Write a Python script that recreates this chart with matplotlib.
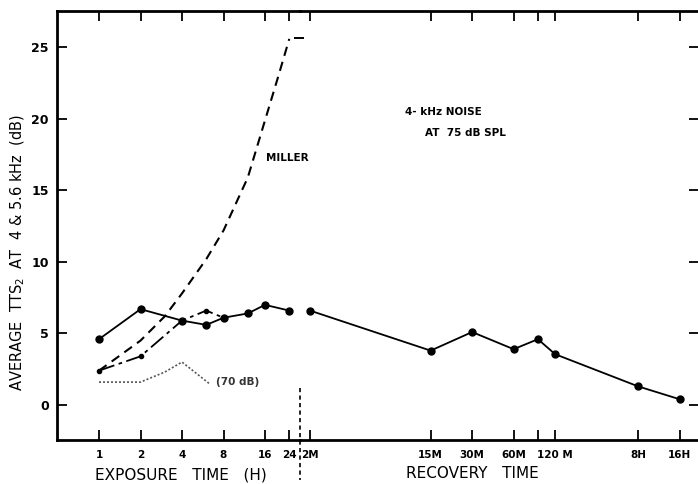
import numpy as np
import matplotlib
matplotlib.use("Agg")
import matplotlib.pyplot as plt
from matplotlib.transforms import blended_transform_factory, ScaledTranslation

# ---------------- data ----------------
exp_hours = [1, 2, 4, 6, 8, 12, 16, 24]
exp_tts_75 = [4.6, 6.7, 5.9, 5.6, 6.1, 6.4, 7.0, 6.6]

alt_hours = [1, 2, 4, 6, 8]
alt_tts = [2.4, 3.4, 5.9, 6.6, 6.1]

db70_hours = [1, 2, 3, 4, 6.3]
db70_tts = [1.6, 1.6, 2.3, 3.0, 1.5]

miller_hours = [1, 2, 3, 4, 6, 8, 12, 16, 20, 24]
miller_tts = [2.4, 4.5, 6.2, 7.8, 10.2, 12.2, 15.9, 19.9, 23.0, 25.6]

rec_minutes = [2, 15, 30, 60, 90, 120, 480, 960]
rec_tts = [6.6, 3.8, 5.1, 3.9, 4.6, 3.55, 1.3, 0.4]

exp_ticks = [1, 2, 4, 8, 16, 24]
exp_labels = ["1", "2", "4", "8", "16", "24"]
rec_ticks = [2, 15, 30, 60, 90, 120, 480, 960]
rec_labels = ["2M", "15M", "30M", "60M", "", "120 M", "8H", "16H"]
y_ticks = [0, 5, 10, 15, 20, 25]

# ---------------- figure ----------------
W, H = 698, 484
fig = plt.figure(figsize=(W / 100, H / 100), dpi=100)
fig.patch.set_facecolor("white")

left_px, div_px, right_px = 57, 300, 700
top_px, bot_px = 11, 440
fb, ft = 1 - bot_px / H, 1 - top_px / H

ax1 = fig.add_axes([left_px / W, fb, (div_px - left_px) / W, ft - fb])
ax2 = fig.add_axes([div_px / W, fb, (right_px - div_px) / W, ft - fb], sharey=ax1)
ax1.patch.set_visible(False)
ax2.patch.set_visible(False)

ylim = (-2.45, 27.55)
ppu = 41.5  # pixels per doubling
ax1.set_xscale("log", base=2)
ax2.set_xscale("log", base=2)
ax1.set_xlim(2 ** ((left_px - 99) / ppu), 2 ** ((div_px - 99) / ppu))
ax2.set_xlim(2 * 2 ** ((div_px - 310) / ppu), 2 * 2 ** ((right_px - 310) / ppu))
ax1.set_ylim(*ylim)

for ax in (ax1, ax2):
    ax.minorticks_off()
    for s in ax.spines.values():
        s.set_linewidth(2.0)
        s.set_color("black")
ax1.spines["right"].set_visible(False)
ax2.spines["left"].set_visible(False)

tick_font = dict(fontsize=7.5, fontweight="bold", family="DejaVu Sans")

ax1.set_xticks(exp_ticks)
ax1.set_xticklabels(exp_labels, **tick_font)
ax2.set_xticks(rec_ticks)
ax2.set_xticklabels(rec_labels, **tick_font)
ax1.set_yticks(y_ticks)
ax1.set_yticklabels([str(v) for v in y_ticks], fontsize=9, fontweight="bold")

ax1.tick_params(axis="x", which="both", direction="in", top=True, bottom=True,
                length=7, width=1.3, pad=7)
ax2.tick_params(axis="x", which="both", direction="in", top=True, bottom=True,
                length=7, width=1.3, pad=7)
ax1.tick_params(axis="y", direction="in", left=True, right=False, length=7, width=1.3, pad=6)
ax2.tick_params(axis="y", direction="in", left=False, right=True, labelleft=False,
                length=8, width=1.3)

mk = dict(marker="o", markersize=5, markerfacecolor="black", markeredgecolor="black")

# main 75 dB exposure curve
ax1.plot(exp_hours, exp_tts_75, color="black", lw=1.3, **mk, zorder=4)
# alternate run (dash-dot)
ax1.plot(alt_hours, alt_tts, color="black", lw=1.3, linestyle=(0, (9, 2.5, 2, 2.5)),
         marker="o", markersize=3, markerfacecolor="black", markeredgecolor="black", zorder=3)
# 70 dB (dotted)
ax1.plot(db70_hours, db70_tts, color="#555555", lw=1.2, linestyle=(0, (1.2, 1.2)), zorder=2)
# Miller (dashed)
ax1.plot(miller_hours, miller_tts, color="black", lw=1.5, linestyle=(0, (4.5, 3)), zorder=2)
cap = ScaledTranslation(10 / 100, 1 / 100, fig.dpi_scale_trans)
ax1.plot(miller_hours[-1:], miller_tts[-1:], marker="_", markersize=7, mew=1.4, color="black",
         linestyle="none", transform=ax1.transData + cap, clip_on=False)

# recovery
ax2.plot(rec_minutes, rec_tts, color="black", lw=1.3, **mk, zorder=4)

# divider between exposure and recovery
tr = blended_transform_factory(ax2.transAxes, ax2.transData)
ax2.plot([0, 0], [1.2, -5.25], transform=tr, color="black", lw=1.2,
         linestyle=(0, (2.5, 2)), clip_on=False, zorder=5)

# annotations
txt = dict(fontsize=7.5, fontweight="bold", color="black")
ax1.text(16.3, 17.3, "MILLER", ha="left", va="center", clip_on=False, **txt)
ax1.text(7.1, 1.6, "(70 dB)", ha="left", va="center", fontsize=7.5, fontweight="bold", color="#333333")
ax2.text(9.8, 20.5, "4- kHz NOISE", ha="left", va="center", **txt)
ax2.text(13.6, 19.0, "AT  75 dB SPL", ha="left", va="center", **txt)

# axis labels
fig.text(181 / W, 1 - 475 / H, "EXPOSURE   TIME   (H)", ha="center", va="center", fontsize=11)
fig.text(472 / W, 1 - 473 / H, "RECOVERY   TIME", ha="center", va="center", fontsize=11)
fig.text(18 / W, 1 - 253 / H, "AVERAGE  TTS$_2$  AT  4 & 5.6 kHz  (dB)", ha="center", va="center",
         rotation=90, fontsize=10.5)

fig.savefig("out.png", dpi=100, facecolor="white")
